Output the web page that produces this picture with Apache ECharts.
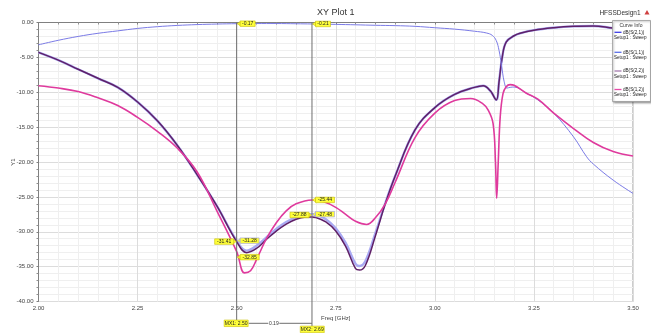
<!DOCTYPE html>
<html><head><meta charset="utf-8">
<script src="https://cdn.jsdelivr.net/npm/echarts@6/dist/echarts.min.js"></script>
<style>html,body{margin:0;padding:0;background:#fff}#c{width:651px;height:333px}</style>
</head><body><div id="c"></div>
<script>
// ---------- data ----------
const seriesNames = ['dB(S(2,1))', 'dB(S(1,1))', 'dB(S(2,2))', 'dB(S(1,2))'];
const sweepName = 'Setup1 : Sweep';

const freqS21 = [2.00,2.05,2.10,2.15,2.20,2.25,2.30,2.35,2.40,2.45,2.50,2.55,2.60,2.65,2.69,2.75,2.80,2.85,2.90,2.95,3.00,3.05,3.10,3.13,3.145,3.155,3.162,3.168,3.175,3.182,3.19,3.20,3.23,3.26,3.30,3.35,3.383,3.40,3.45,3.50];
const valS21  = [-3.2,-2.55,-2.0,-1.55,-1.2,-0.85,-0.6,-0.42,-0.3,-0.22,-0.17,-0.15,-0.15,-0.18,-0.21,-0.27,-0.33,-0.4,-0.45,-0.55,-0.75,-0.95,-1.25,-1.5,-1.85,-2.6,-4.0,-6.0,-8.5,-9.4,-9.3,-9.25,-10.1,-11.1,-13.0,-16.4,-19.25,-20.3,-22.6,-24.5];

const freqS11 = [2.00,2.05,2.10,2.15,2.20,2.25,2.30,2.35,2.40,2.45,2.50,2.525,2.55,2.575,2.60,2.625,2.65,2.675,2.69,2.70,2.725,2.75,2.775,2.80,2.81,2.825,2.85,2.875,2.90,2.95,3.00,3.05,3.10,3.122,3.14,3.155,3.162,3.17,3.18,3.20,3.215,3.25,3.30,3.35,3.40,3.45,3.50];
const valS11  = [-4.28,-5.4,-6.7,-8.0,-9.3,-11.4,-14.1,-17.6,-21.8,-26.3,-31.28,-32.7,-32.0,-30.8,-29.6,-28.6,-27.95,-27.6,-27.48,-27.55,-28.2,-29.5,-31.6,-34.6,-34.9,-34.2,-30.2,-25.9,-22.0,-15.4,-12.2,-10.3,-9.3,-9.07,-9.8,-11.1,-8.5,-5.0,-2.8,-1.9,-1.55,-1.1,-0.75,-0.55,-0.5,-0.8,-1.0];

const freqS22 = [2.00,2.05,2.10,2.15,2.20,2.25,2.30,2.35,2.40,2.45,2.50,2.525,2.55,2.575,2.60,2.625,2.65,2.675,2.69,2.70,2.725,2.75,2.775,2.80,2.81,2.825,2.85,2.875,2.90,2.95,3.00,3.05,3.10,3.122,3.14,3.155,3.162,3.17,3.18,3.20,3.215,3.25,3.30,3.35,3.40,3.45,3.50];
const valS22  = [-4.28,-5.4,-6.7,-8.0,-9.3,-11.4,-14.1,-17.6,-21.8,-26.3,-31.41,-33.0,-32.4,-31.1,-29.9,-28.9,-28.2,-27.9,-27.88,-27.95,-28.6,-29.9,-32.1,-35.3,-35.5,-34.8,-30.6,-26.0,-22.0,-15.4,-12.2,-10.3,-9.3,-9.07,-9.8,-11.1,-8.5,-5.0,-2.8,-1.9,-1.55,-1.1,-0.75,-0.55,-0.5,-0.8,-1.0];

const freqS12 = [2.00,2.05,2.10,2.15,2.20,2.25,2.30,2.35,2.40,2.45,2.50,2.52,2.535,2.55,2.575,2.60,2.625,2.65,2.69,2.72,2.75,2.775,2.80,2.828,2.85,2.875,2.90,2.95,3.00,3.05,3.09,3.12,3.135,3.147,3.153,3.156,3.16,3.165,3.172,3.18,3.19,3.20,3.23,3.26,3.30,3.35,3.40,3.45,3.50];
const valS12  = [-9.07,-9.4,-9.9,-10.8,-11.9,-13.6,-15.6,-18.0,-21.4,-27.0,-32.85,-35.9,-35.6,-34.0,-31.0,-28.7,-27.0,-26.0,-25.44,-25.7,-26.5,-27.5,-28.5,-28.95,-28.0,-26.0,-22.9,-16.5,-13.0,-11.2,-10.9,-11.6,-12.6,-14.5,-20.0,-25.2,-20.0,-13.5,-10.2,-9.2,-8.9,-9.0,-10.1,-11.0,-13.0,-15.2,-17.2,-18.5,-19.15];

const xTickLabels = ['2.00','2.25','2.50','2.75','3.00','3.25','3.50'];
const yTickLabels = ['-40.00','-35.00','-30.00','-25.00','-20.00','-15.00','-10.00','-5.00','0.00'];

const markerFreqs = [2.50, 2.69];
const markerNames = ['MX1: 2.50', 'MX2: 2.69'];
const markerDelta = '0.19';
// marker readouts: [marker index, text, value, side, series index]
const markerReadouts = [
  [0, '-0.17', -0.17, 'right', 0],
  [1, '-0.21', -0.21, 'right', 0],
  [0, '-31.41', -31.41, 'left', 2],
  [0, '-31.28', -31.28, 'right', 1],
  [0, '-32.85', -32.85, 'right', 3],
  [1, '-25.44', -25.44, 'right', 3],
  [1, '-27.88', -27.88, 'left', 2],
  [1, '-27.48', -27.48, 'right', 1]
];

(function () {
// ---------- chart ----------
const lineColors = ['#7b7be6', '#a9a9f3', '#5f2068', '#df3a9d'];
const lineWidths = [1, 2.4, 1.5, 1.6];
const legendColors = ['#3c3ce6', '#5a6ee8', '#a57aad', '#e64aa8'];
const FONT = 'Liberation Sans, Arial, sans-serif';

function pairs(xs, ys) { return xs.map((x, i) => [x, ys[i]]); }
const seriesData = [pairs(freqS21, valS21), pairs(freqS11, valS11), pairs(freqS22, valS22), pairs(freqS12, valS12)];
const drawOrder = [1, 2, 0, 3];

const chart = echarts.init(document.getElementById('c'), null, { renderer: 'canvas' });
chart.setOption({
  animation: false,
  backgroundColor: '#fff',
  grid: { left: 38.5, right: 18, top: 22.5, bottom: 31.5, show: true, borderColor: '#9a9a9a', borderWidth: 1, containLabel: false, outerBoundsMode: 'none' },
  xAxis: {
    type: 'value', min: 2, max: 3.5, interval: 0.25,
    name: 'Freq [GHz]', nameLocation: 'middle', nameGap: 14, nameMoveOverlap: false,
    nameTextStyle: { fontSize: 6, color: '#444', fontFamily: FONT },
    axisLine: { lineStyle: { color: '#808080' } },
    axisTick: { show: true, length: 2, lineStyle: { color: '#808080' } },
    minorTick: { show: true, splitNumber: 5, length: 2, lineStyle: { color: '#909090' } },
    splitLine: { show: true, lineStyle: { color: '#dcdcdc', width: 1 } },
    minorSplitLine: { show: true, lineStyle: { color: '#efefef', width: 1 } },
    axisLabel: { fontSize: 6, color: '#444', margin: 4, fontFamily: FONT,
      formatter: v => xTickLabels[Math.round((v - 2) / 0.25)] }
  },
  yAxis: {
    type: 'value', min: -40, max: 0, interval: 5,
    name: 'Y1', nameLocation: 'middle', nameGap: 22, nameRotate: 90, nameMoveOverlap: false,
    nameTextStyle: { fontSize: 6, color: '#444', fontFamily: FONT },
    axisLine: { show: true, lineStyle: { color: '#808080' } },
    axisTick: { show: true, length: 2, lineStyle: { color: '#808080' } },
    minorTick: { show: true, splitNumber: 5, length: 2, lineStyle: { color: '#909090' } },
    splitLine: { show: true, lineStyle: { color: '#dcdcdc', width: 1 } },
    minorSplitLine: { show: true, lineStyle: { color: '#efefef', width: 1 } },
    axisLabel: { fontSize: 6, color: '#444', margin: 5, fontFamily: FONT,
      formatter: v => yTickLabels[Math.round((v + 40) / 5)] }
  },
  series: drawOrder.map(i => ({
    name: seriesNames[i], type: 'line', data: seriesData[i],
    showSymbol: false, smooth: 0.4,
    lineStyle: { color: lineColors[i], width: lineWidths[i] },
    itemStyle: { color: lineColors[i] }, z: 2 + drawOrder.indexOf(i)
  }))
});

// ---------- annotations (markers, labels, legend, titles) ----------
function px(f, v) { return chart.convertToPixel({ gridIndex: 0 }, [f, v]); }
const g = [];
const plotTop = px(2, 0)[1];

// title texts
const midX = (px(2, 0)[0] + px(3.5, 0)[0]) / 2;
g.push({ type: 'text', x: midX, y: 13, z: 50, style: { text: 'XY Plot 1', fontSize: 9, fill: '#333', fontFamily: FONT, align: 'center', verticalAlign: 'middle' } });
g.push({ type: 'text', x: 620, y: 13, z: 50, style: { text: 'HFSSDesign1', fontSize: 6.5, fill: '#333', fontFamily: FONT, align: 'center', verticalAlign: 'middle' } });
g.push({ type: 'polygon', z: 50, shape: { points: [[644.5, 14.5], [649.5, 14.5], [647, 10]] }, style: { fill: '#d04040' } });

// marker lines
const mx = markerFreqs.map(f => px(f, 0)[0]);
const mxBottom = [320, 326];
mx.forEach((x, i) => {
  g.push({ type: 'line', z: 20, shape: { x1: x, y1: plotTop, x2: x, y2: mxBottom[i] }, style: { stroke: '#6e6e6e', lineWidth: 1 } });
});

function yellowBox(cx, cy, text, w, h, stroke, z) {
  g.push({ type: 'rect', z: z || 30, shape: { x: cx - w / 2, y: cy - h / 2, width: w, height: h }, style: { fill: '#ffff3a', stroke: stroke || '#c8c000', lineWidth: 0.6 } });
  g.push({ type: 'text', z: (z || 30) + 1, x: cx, y: cy, style: { text: text, fontSize: 5, fill: '#222', fontFamily: FONT, align: 'center', verticalAlign: 'middle' } });
}

// readout labels
const readoutDy = { '-32.85': 5.5, '-27.88': -2 };
markerReadouts.forEach(r => {
  const x = mx[r[0]];
  const y = px(markerFreqs[r[0]], r[2])[1] + (readoutDy[r[1]] || 0);
  const w = r[1].length > 5 ? 19 : 15, h = 5.5;
  const stroke = r[4] === 1 ? '#9a9ae8' : '#c8c000';
  if (r[3] === 'right') {
    const x0 = x + 3.5;
    g.push({ type: 'polygon', z: 30, shape: { points: [[x + 0.5, y], [x0, y - 2], [x0, y + 2]] }, style: { fill: '#ffff3a', stroke: stroke, lineWidth: 0.5 } });
    yellowBox(x0 + w / 2, y, r[1], w, h, stroke);
  } else {
    const x1 = x - 3;
    g.push({ type: 'polygon', z: 30, shape: { points: [[x - 0.5, y], [x1, y - 2], [x1, y + 2]] }, style: { fill: '#ffff3a', stroke: stroke, lineWidth: 0.5 } });
    yellowBox(x1 - w / 2, y, r[1], w, h, stroke);
  }
});

// marker name boxes and delta
const mxBoxW = 24, mxBoxH = 6.5;
yellowBox(mx[0] - 0.5, 323.3, markerNames[0], mxBoxW, mxBoxH, '#c8c000', 40);
yellowBox(mx[1] + 0.3, 329.4, markerNames[1], mxBoxW, mxBoxH, '#c8c000', 40);
g.push({ type: 'line', z: 35, shape: { x1: mx[0] + mxBoxW / 2, y1: 323.3, x2: mx[1], y2: 323.3 }, style: { stroke: '#6e6e6e', lineWidth: 1 } });
g.push({ type: 'rect', z: 36, shape: { x: (mx[0] + mx[1]) / 2 - 6, y: 320.5, width: 11, height: 6 }, style: { fill: '#fff' } });
g.push({ type: 'text', z: 37, x: (mx[0] + mx[1]) / 2 - 0.5, y: 323.5, style: { text: markerDelta, fontSize: 5, fill: '#333', fontFamily: FONT, align: 'center', verticalAlign: 'middle' } });

// legend (Curve Info)
g.push({ type: 'rect', z: 60, shape: { x: 612.5, y: 20.5, width: 38, height: 81 }, style: { fill: '#fff', stroke: '#9a9a9a', lineWidth: 0.8, shadowBlur: 2, shadowColor: 'rgba(0,0,0,0.35)', shadowOffsetX: 1, shadowOffsetY: 1 } });
g.push({ type: 'text', z: 61, x: 631, y: 25.5, style: { text: 'Curve Info', fontSize: 5, fill: '#333', fontFamily: FONT, align: 'center', verticalAlign: 'middle' } });
const legendY = [32.3, 52.3, 71, 89.5];
seriesNames.forEach((n, i) => {
  const y = legendY[i];
  g.push({ type: 'line', z: 61, shape: { x1: 614.5, y1: y, x2: 621.5, y2: y }, style: { stroke: legendColors[i], lineWidth: 1.3 } });
  g.push({ type: 'text', z: 61, x: 623, y: y, style: { text: n, fontSize: 4.6, fill: '#222', fontFamily: FONT, align: 'left', verticalAlign: 'middle' } });
  g.push({ type: 'text', z: 61, x: 614, y: y + 5.4, style: { text: sweepName, fontSize: 4.6, fill: '#222', fontFamily: FONT, align: 'left', verticalAlign: 'middle' } });
});

chart.setOption({ graphic: g });
})();
</script>
</body></html>
